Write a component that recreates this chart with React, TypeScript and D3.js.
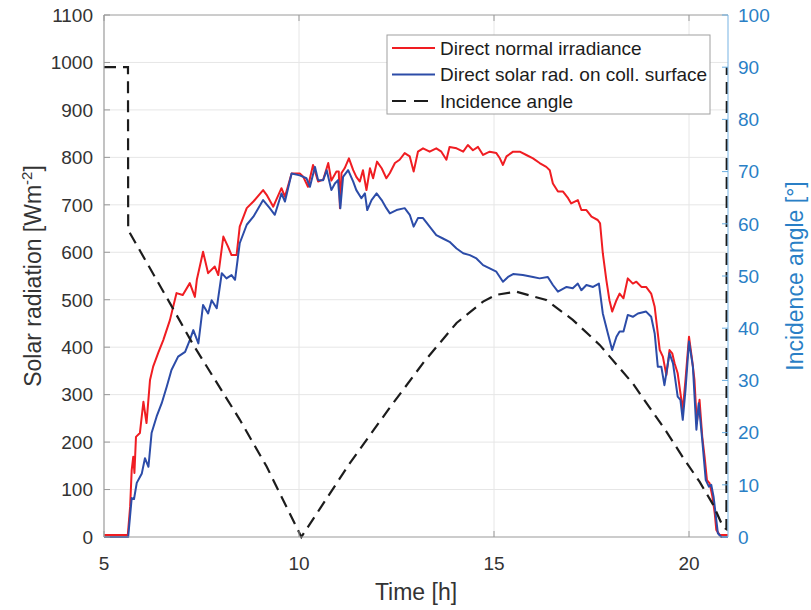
import React from "react";
import * as d3 from "d3";

// ---- Data ----
const dniTime = [5.0, 5.61, 5.67, 5.71, 5.75, 5.78, 5.82, 5.92, 6.01, 6.09, 6.18, 6.26, 6.39, 6.52, 6.69, 6.86, 7.02, 7.2, 7.33, 7.38, 7.54, 7.67, 7.84, 7.93, 8.06, 8.18, 8.27, 8.4, 8.48, 8.66, 8.83, 9.08, 9.17, 9.34, 9.55, 9.64, 9.81, 10.02, 10.11, 10.23, 10.36, 10.49, 10.62, 10.75, 10.83, 10.96, 11.02, 11.05, 11.09, 11.17, 11.28, 11.39, 11.47, 11.56, 11.64, 11.73, 11.82, 11.9, 12.0, 12.12, 12.24, 12.33, 12.46, 12.58, 12.71, 12.84, 12.94, 13.05, 13.18, 13.35, 13.52, 13.65, 13.78, 13.86, 14.04, 14.21, 14.33, 14.46, 14.59, 14.72, 14.81, 14.89, 15.06, 15.15, 15.23, 15.32, 15.49, 15.66, 15.83, 16.0, 16.17, 16.34, 16.43, 16.51, 16.64, 16.77, 16.9, 16.98, 17.15, 17.24, 17.37, 17.5, 17.66, 17.72, 17.79, 17.88, 17.96, 18.03, 18.14, 18.22, 18.32, 18.43, 18.56, 18.65, 18.78, 18.9, 19.03, 19.12, 19.2, 19.25, 19.33, 19.42, 19.5, 19.57, 19.63, 19.71, 19.78, 19.84, 19.91, 20.0, 20.08, 20.14, 20.2, 20.27, 20.34, 20.4, 20.46, 20.53, 20.6, 20.66, 20.7, 20.79, 21.0];
const dniValues = [4, 4, 64, 141, 169, 135, 211, 219, 285, 240, 331, 359, 388, 415, 457, 514, 510, 535, 506, 542, 601, 556, 570, 552, 633, 612, 594, 594, 654, 693, 707, 731, 721, 696, 735, 717, 766, 766, 759, 738, 784, 749, 753, 788, 751, 770, 770, 693, 767, 777, 798, 773, 759, 749, 773, 731, 777, 756, 791, 777, 756, 767, 788, 795, 809, 802, 770, 812, 819, 812, 819, 812, 795, 822, 819, 812, 826, 815, 822, 805, 809, 812, 809, 798, 784, 802, 812, 812, 805, 798, 788, 780, 773, 745, 728, 728, 714, 703, 710, 689, 689, 675, 668, 661, 598, 542, 499, 475, 499, 513, 503, 545, 534, 538, 527, 527, 513, 485, 429, 394, 380, 341, 394, 387, 366, 345, 303, 268, 331, 422, 373, 331, 240, 289, 211, 169, 120, 113, 85, 50, 15, 4, 4];

const collTime = [5.0, 5.62, 5.71, 5.77, 5.84, 5.97, 6.05, 6.14, 6.22, 6.35, 6.48, 6.61, 6.73, 6.9, 7.08, 7.2, 7.29, 7.42, 7.54, 7.67, 7.76, 7.89, 8.02, 8.14, 8.27, 8.36, 8.48, 8.66, 8.83, 9.08, 9.25, 9.38, 9.55, 9.64, 9.81, 10.02, 10.19, 10.28, 10.41, 10.49, 10.62, 10.71, 10.83, 10.92, 11.0, 11.06, 11.13, 11.26, 11.39, 11.47, 11.6, 11.69, 11.75, 11.86, 11.99, 12.12, 12.24, 12.33, 12.5, 12.71, 12.84, 12.94, 13.05, 13.18, 13.35, 13.52, 13.69, 13.86, 14.04, 14.21, 14.38, 14.55, 14.72, 14.89, 15.06, 15.23, 15.36, 15.49, 15.74, 16.0, 16.17, 16.38, 16.51, 16.64, 16.86, 17.02, 17.15, 17.24, 17.37, 17.54, 17.69, 17.79, 17.92, 18.03, 18.14, 18.22, 18.32, 18.43, 18.56, 18.69, 18.9, 19.03, 19.12, 19.2, 19.29, 19.37, 19.5, 19.59, 19.71, 19.78, 19.84, 19.91, 20.0, 20.1, 20.19, 20.25, 20.34, 20.43, 20.51, 20.57, 20.63, 20.7, 20.74, 20.83, 21.0];
const collValues = [0, 0, 82, 80, 114, 134, 166, 148, 219, 254, 282, 317, 352, 380, 390, 415, 436, 408, 489, 471, 499, 482, 556, 545, 552, 542, 619, 658, 675, 710, 693, 679, 724, 707, 766, 762, 756, 738, 780, 752, 752, 773, 731, 745, 752, 693, 759, 773, 749, 731, 714, 724, 689, 710, 724, 710, 693, 682, 689, 693, 679, 654, 672, 672, 654, 636, 629, 622, 608, 598, 594, 587, 573, 566, 559, 538, 548, 554, 552, 548, 545, 548, 531, 517, 527, 524, 534, 520, 531, 527, 534, 471, 429, 394, 422, 433, 433, 468, 464, 471, 475, 464, 429, 359, 359, 320, 387, 366, 296, 289, 247, 310, 412, 359, 226, 282, 204, 120, 106, 110, 85, 36, 8, 0, 0];

const angleTime = [5.0, 5.615, 5.62, 6.69, 7.29, 8.48, 9.17, 10.06, 11.3, 12.3, 13.2, 14.04, 14.72, 15.06, 15.57, 16.34, 17.02, 17.71, 18.56, 19.42, 19.84, 20.27, 20.61, 20.87, 20.96, 20.97];
const angleValues = [90, 90, 58.8, 44.8, 36.8, 22.5, 13.5, 0, 14.1, 24.5, 33.5, 41.0, 45.1, 46.4, 47.0, 45.4, 41.6, 36.8, 29.4, 20.2, 15.3, 10.6, 6.3, 2.0, 1.5, 90];

const xTicks = [5, 10, 15, 20];
const yLeftTicks = [0, 100, 200, 300, 400, 500, 600, 700, 800, 900, 1000, 1100];
const yRightTicks = [0, 10, 20, 30, 40, 50, 60, 70, 80, 90, 100];

const seriesNames = ["Direct normal irradiance", "Direct solar rad. on coll. surface", "Incidence angle"];

// ---- Layout ----
const W = 811, H = 610;
const L = 104, R = 728, T = 15, B = 537;
const FONT = "'Liberation Sans', Arial, Helvetica, sans-serif";
const RED = "#f01d22";
const BLUE = "#2c4ca8";
const DARK = "#1c1c1c";
const TXT = "#333333";
const RBLUE = "#2a7fc6";
const AXIS = "#9a9a9a";

export default function App() {
  const x = d3.scaleLinear().domain([5, 21]).range([L, R]);
  const yL = d3.scaleLinear().domain([0, 1100]).range([B, T]);
  const yR = d3.scaleLinear().domain([0, 100]).range([B, T]);

  const mk = (ts: number[], vs: number[], ys: d3.ScaleLinear<number, number>) =>
    d3.line<number>().x((_, i) => x(ts[i])).y((v) => ys(v))(vs) || "";

  const dniPath = mk(dniTime, dniValues, yL);
  const collPath = mk(collTime, collValues, yL);
  const anglePath = mk(angleTime, angleValues, yR);

  return (
    <svg width={W} height={H} style={{ position: "absolute", left: 0, top: 0, background: "#fff" }} fontFamily={FONT}>
      <rect x={0} y={0} width={W} height={H} fill="#fff" />
      {/* grid */}
      {yLeftTicks.filter((t) => t > 0 && t < 1100).map((t) => (
        <line key={"gy" + t} x1={L} x2={R} y1={yL(t)} y2={yL(t)} stroke="#e6e6e6" strokeWidth={1} />
      ))}
      {xTicks.filter((t) => t > 5).map((t) => (
        <line key={"gx" + t} x1={x(t)} x2={x(t)} y1={T} y2={B} stroke="#e6e6e6" strokeWidth={1} />
      ))}

      {/* data */}
      <path d={dniPath} fill="none" stroke={RED} strokeWidth={2} strokeLinejoin="round" />
      <path d={collPath} fill="none" stroke={BLUE} strokeWidth={2} strokeLinejoin="round" />
      <path d={anglePath} fill="none" stroke={DARK} strokeWidth={2.2} strokeDasharray="12,7" />

      {/* box */}
      <line x1={L} x2={R} y1={T} y2={T} stroke={AXIS} strokeWidth={1} />
      <line x1={L} x2={R} y1={B} y2={B} stroke={AXIS} strokeWidth={1.2} />
      <line x1={L} x2={L} y1={T} y2={B} stroke={AXIS} strokeWidth={1.2} />
      <line x1={R} x2={R} y1={T} y2={B} stroke="#8ec0e8" strokeWidth={1.2} />

      {/* left ticks */}
      {yLeftTicks.map((t) => (
        <g key={"yl" + t}>
          <line x1={L} x2={L + 6} y1={yL(t)} y2={yL(t)} stroke={AXIS} />
          <text x={L - 11} y={yL(t)} dy="0.36em" textAnchor="end" fontSize={19} fill={TXT}>{t}</text>
        </g>
      ))}
      {/* right ticks */}
      {yRightTicks.map((t) => (
        <g key={"yr" + t}>
          <line x1={R - 6} x2={R} y1={yR(t)} y2={yR(t)} stroke="#6aaee0" />
          <text x={R + 10} y={yR(t)} dy="0.36em" textAnchor="start" fontSize={19} fill={RBLUE}>{t}</text>
        </g>
      ))}
      {/* x ticks */}
      {xTicks.map((t) => (
        <g key={"xt" + t}>
          <line x1={x(t)} x2={x(t)} y1={B} y2={B - 6} stroke={AXIS} />
          <line x1={x(t)} x2={x(t)} y1={T} y2={T + 6} stroke={AXIS} />
          <text x={x(t)} y={B + 33} textAnchor="middle" fontSize={19} fill={TXT}>{t}</text>
        </g>
      ))}

      {/* axis labels */}
      <text x={416} y={600} textAnchor="middle" fontSize={23} fill={TXT}>Time [h]</text>
      <text transform={`translate(41, ${(T + B) / 2}) rotate(-90)`} textAnchor="middle" fontSize={23} fill={TXT}>
        Solar radiation [Wm<tspan dy={-9} fontSize={15}>-2</tspan><tspan dy={9}>]</tspan>
      </text>
      <text transform={`translate(803, ${(T + B) / 2}) rotate(-90)`} textAnchor="middle" fontSize={23} fill={RBLUE}>
        Incidence angle [°]
      </text>

      {/* legend */}
      <rect x={387} y={35} width={323} height={79} fill="#fff" stroke="#a0a0a0" strokeWidth={1} />
      {seriesNames.map((name, i) => {
        const yy = 48 + i * 26.5;
        const color = i === 0 ? RED : i === 1 ? BLUE : DARK;
        return (
          <g key={name}>
            <line x1={392} x2={435} y1={yy} y2={yy} stroke={color} strokeWidth={2}
              strokeDasharray={i === 2 ? "14,8" : undefined} />
            <text x={440} y={yy} dy="0.36em" fontSize={19} fill={DARK}>{name}</text>
          </g>
        );
      })}
    </svg>
  );
}
